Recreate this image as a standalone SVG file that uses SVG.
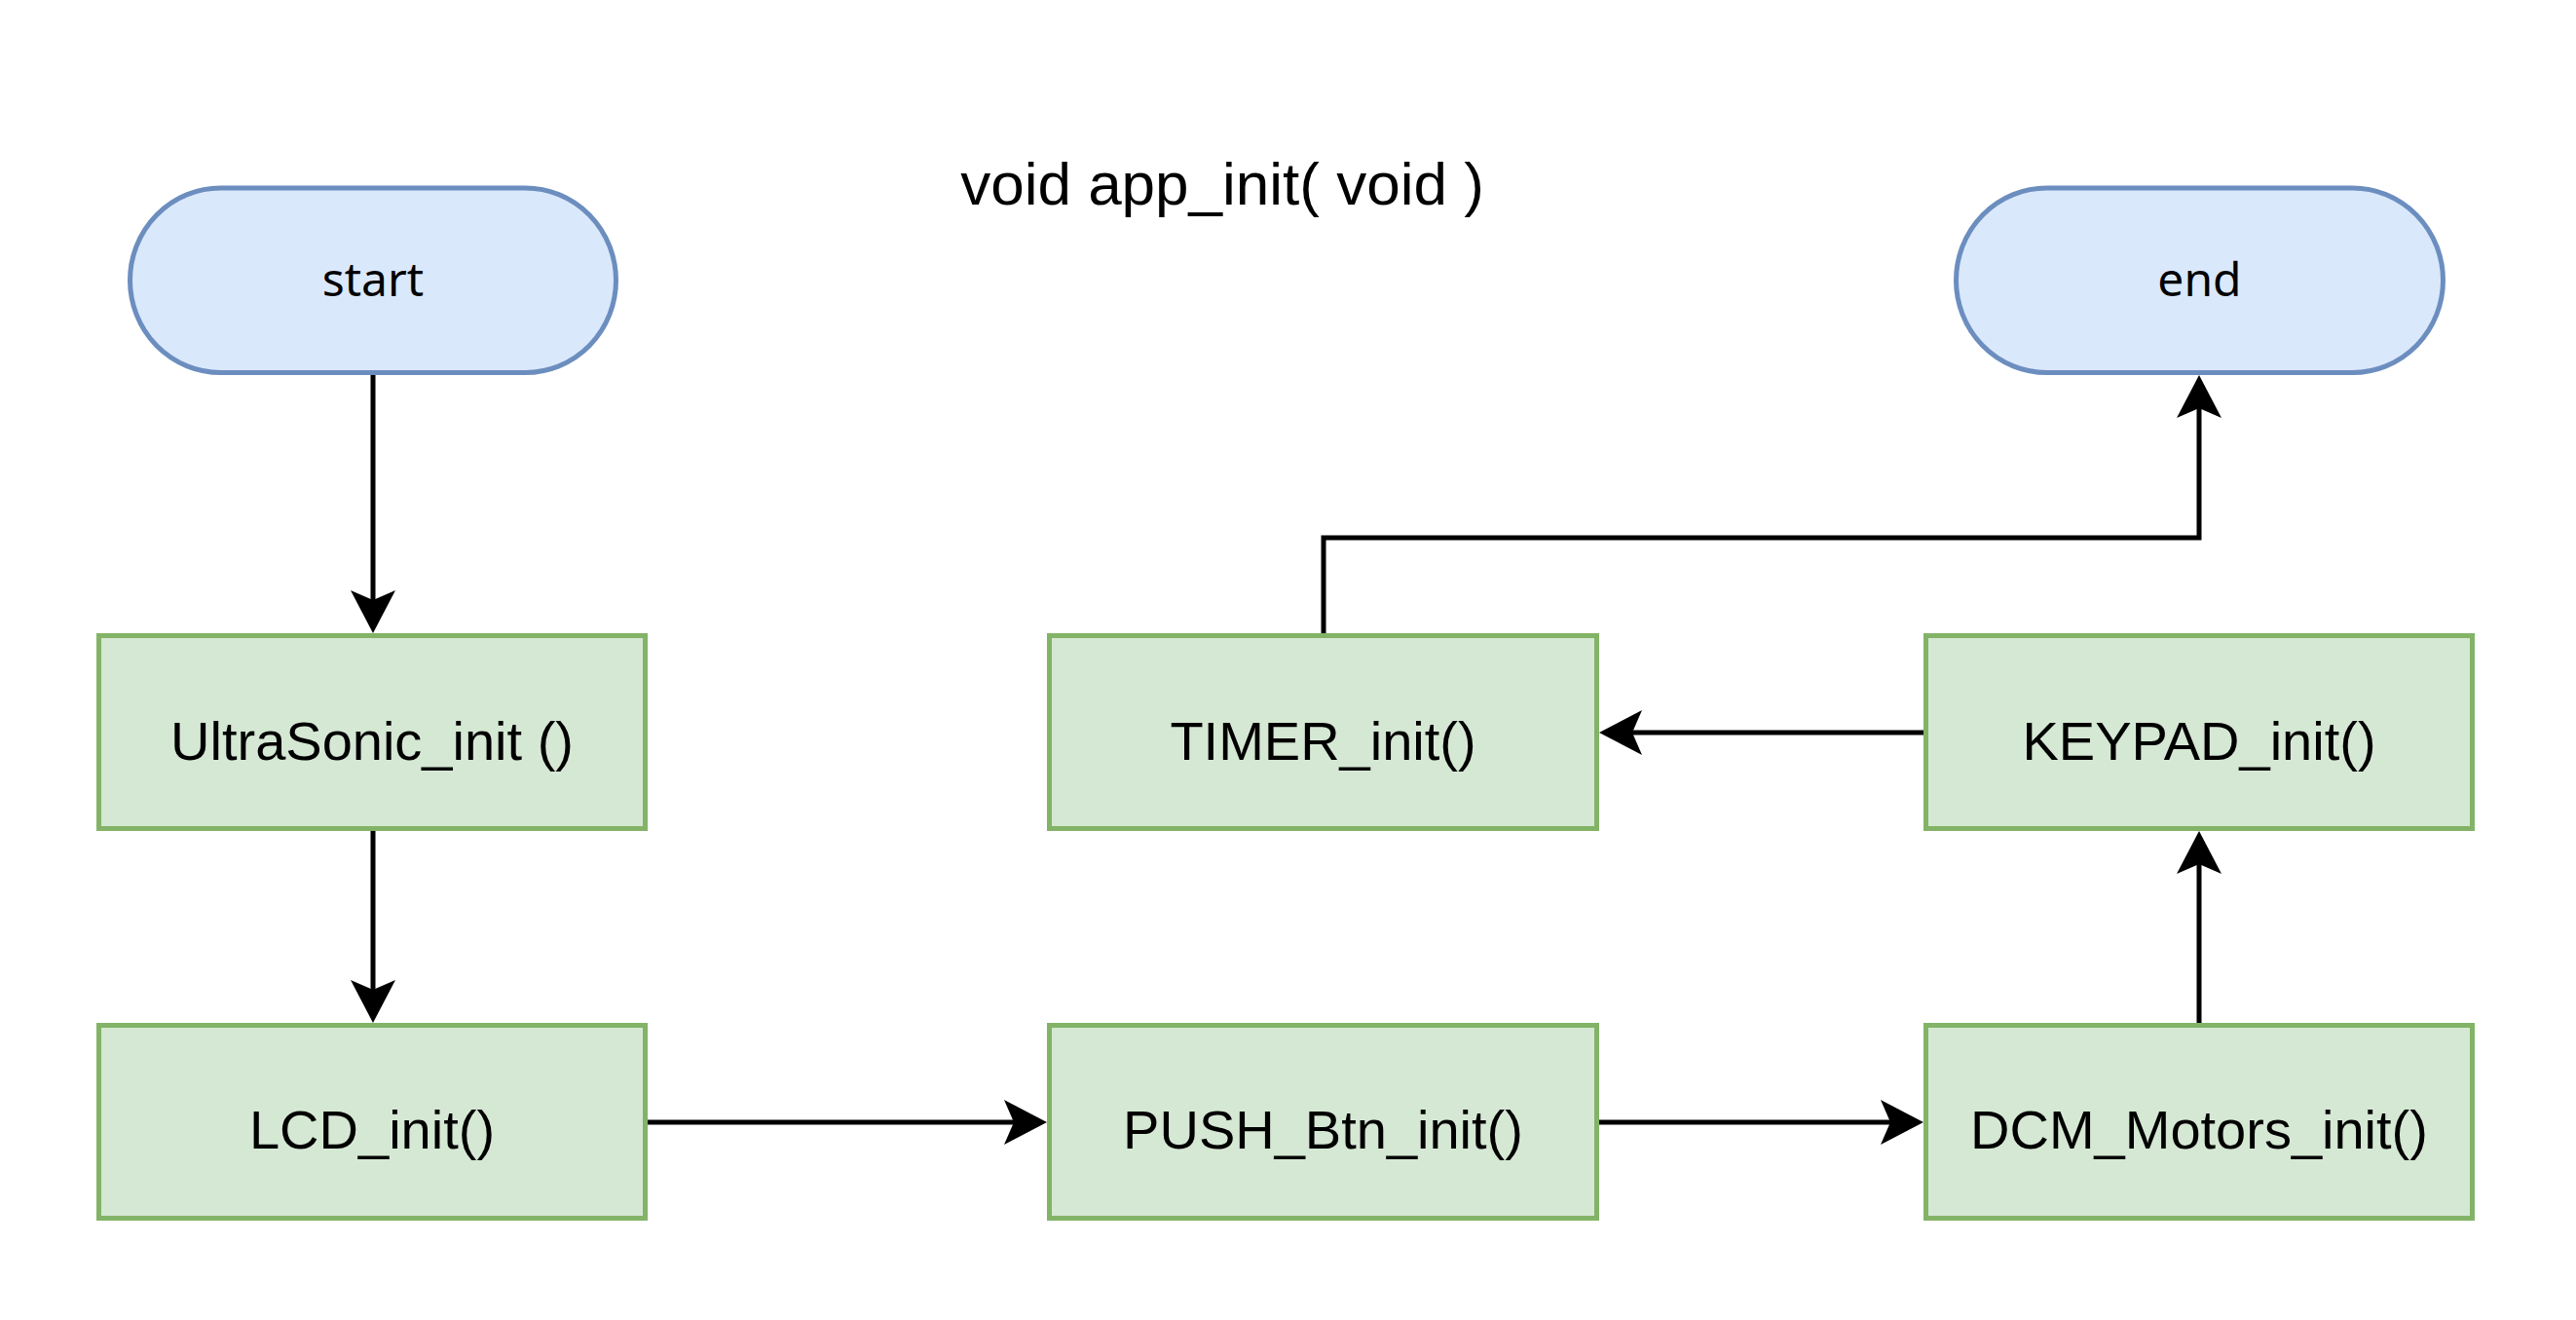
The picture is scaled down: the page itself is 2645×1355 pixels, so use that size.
<svg xmlns="http://www.w3.org/2000/svg" width="2645" height="1355" viewBox="0 0 2645 1355">
<style>
.term{fill:#dae8fc;stroke:#6c8ebf;stroke-width:5}
.proc{fill:#d5e8d4;stroke:#82b366;stroke-width:5}
.lbl{font-family:"Liberation Sans",Arial,sans-serif;font-size:56px;fill:#000;text-anchor:middle}
.tlbl{font-family:"Noto Sans","Open Sans",sans-serif;font-size:48px;fill:#000;text-anchor:middle}
.title{font-family:"Liberation Sans",Arial,sans-serif;font-size:62px;fill:#000;text-anchor:middle}
.edge{fill:none;stroke:#000;stroke-width:5;marker-end:url(#arr)}
</style>
<defs>
<marker id="arr" markerUnits="userSpaceOnUse" viewBox="-11 -24 46 48" markerWidth="46" markerHeight="48" refX="0" refY="0" orient="auto">
<path d="M34,0 L-10,-23 L0,0 L-10,23 Z" fill="#000"/>
</marker>
</defs>
<rect width="2645" height="1355" fill="#fff"/>
<text class="title" x="1255" y="210">void app_init( void )</text>
<g id="connectors">
<path class="edge" d="M383,383 L383,616"/>
<path class="edge" d="M383,853 L383,1016"/>
<path class="edge" d="M665,1152 L1041,1152"/>
<path class="edge" d="M1642,1152 L1941,1152"/>
<path class="edge" d="M2258,1050 L2258,887"/>
<path class="edge" d="M1975,752 L1676,752"/>
<path class="edge" d="M1359,650 L1359,552 L2258,552 L2258,419"/>
</g>
<g id="start">
<rect class="term" x="133.5" y="193" width="499" height="189.5" rx="93" ry="95"/>
<text class="tlbl" x="383" y="304">start</text>
</g>
<g id="end">
<rect class="term" x="2008.5" y="193" width="500" height="189.5" rx="93" ry="95"/>
<text class="tlbl" x="2258.5" y="304">end</text>
</g>
<g id="ultrasonic">
<rect class="proc" x="101.5" y="652.5" width="561" height="198"/>
<text class="lbl" x="382" y="780">UltraSonic_init ()</text>
</g>
<g id="timer">
<rect class="proc" x="1077.5" y="652.5" width="562" height="198"/>
<text class="lbl" x="1358.5" y="780">TIMER_init()</text>
</g>
<g id="keypad">
<rect class="proc" x="1977.5" y="652.5" width="561" height="198"/>
<text class="lbl" x="2258" y="780">KEYPAD_init()</text>
</g>
<g id="lcd">
<rect class="proc" x="101.5" y="1052.5" width="561" height="198"/>
<text class="lbl" x="382" y="1179">LCD_init()</text>
</g>
<g id="push">
<rect class="proc" x="1077.5" y="1052.5" width="562" height="198"/>
<text class="lbl" x="1358.5" y="1179">PUSH_Btn_init()</text>
</g>
<g id="dcm">
<rect class="proc" x="1977.5" y="1052.5" width="561" height="198"/>
<text class="lbl" x="2258" y="1179">DCM_Motors_init()</text>
</g>
</svg>
